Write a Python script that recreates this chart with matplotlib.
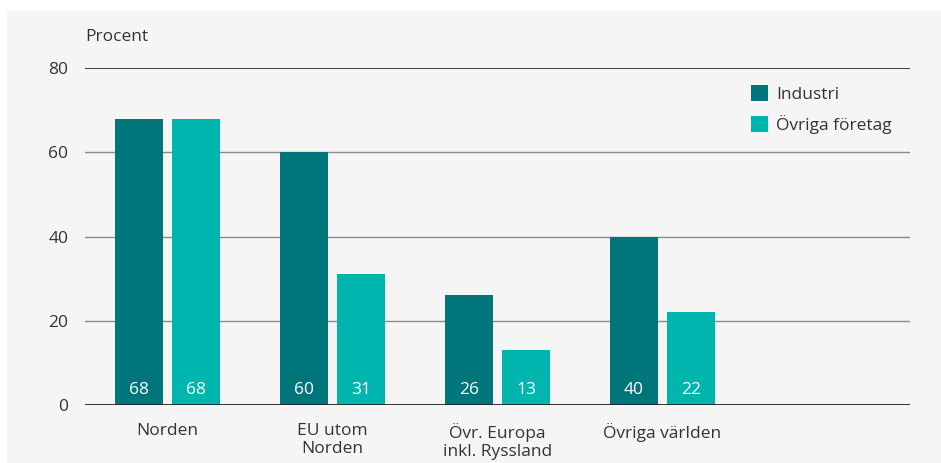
import matplotlib.pyplot as plt
from matplotlib.patches import Rectangle
import numpy as np

plt.rcParams['font.family'] = ['Open Sans', 'DejaVu Sans']

categories = ["Norden", "EU utom\nNorden", "Övr. Europa\ninkl. Ryssland", "Övriga världen"]
industri = [68, 60, 26, 40]
ovriga = [68, 31, 13, 22]
series_names = ["Industri", "Övriga företag"]
yticks = [0, 20, 40, 60, 80]

dark = "#00757a"
light = "#00b5ad"
txt = "#333333"
fs = 12.5

fig = plt.figure(figsize=(9.41, 4.63), dpi=100)
fig.patches.append(Rectangle((7 / 941, 0), 1, 1 - 11 / 463, transform=fig.transFigure,
                             facecolor="#f5f5f5", edgecolor="none", zorder=-10))
ax = fig.add_axes([85 / 941, 1 - 405 / 463, 825 / 941, 337 / 463])
ax.set_facecolor("none")

x = np.arange(len(categories))
w = 0.285
off = 0.1727
b1 = ax.bar(x - off, industri, w, color=dark, label=series_names[0], zorder=3)
b2 = ax.bar(x + off, ovriga, w, color=light, label=series_names[1], zorder=3)

for bars, vals in ((b1, industri), (b2, ovriga)):
    for r, v in zip(bars, vals):
        ax.annotate(str(v), (r.get_x() + r.get_width() / 2, 0), xytext=(0, 10.5),
                    textcoords="offset points", ha="center", va="center",
                    color="white", fontsize=fs, zorder=4)

ax.set_xlim(-0.5, 4.5)
ax.set_ylim(0, 80)
ax.set_yticks(yticks)
ax.set_yticklabels([str(t) for t in yticks], fontsize=fs, color=txt)
ax.set_xticks(x)
ax.set_xticklabels(categories, fontsize=fs, color=txt, linespacing=1.2)
ax.tick_params(axis="both", length=0)
ax.tick_params(axis="y", pad=12)
ax.tick_params(axis="x", pad=13)

for t in [20, 40, 60]:
    ax.axhline(t, color="#8a8a8a", lw=1.0, zorder=1)
ax.axhline(80, color="#333333", lw=1.3, zorder=1)
ax.axhline(0, color="#222222", lw=2.0, zorder=5)

for s in ax.spines.values():
    s.set_visible(False)

ax.text(0, 1.092, "Procent", transform=ax.transAxes, fontsize=fs, color=txt,
        ha="left", va="center")

leg = ax.legend(loc="upper left", bbox_to_anchor=(0.788, 0.995), frameon=False,
                fontsize=fs, handlelength=1.0, handleheight=1.0, handletextpad=0.45,
                labelspacing=0.7, labelcolor=txt)

fig.savefig("out.png", dpi=100)
